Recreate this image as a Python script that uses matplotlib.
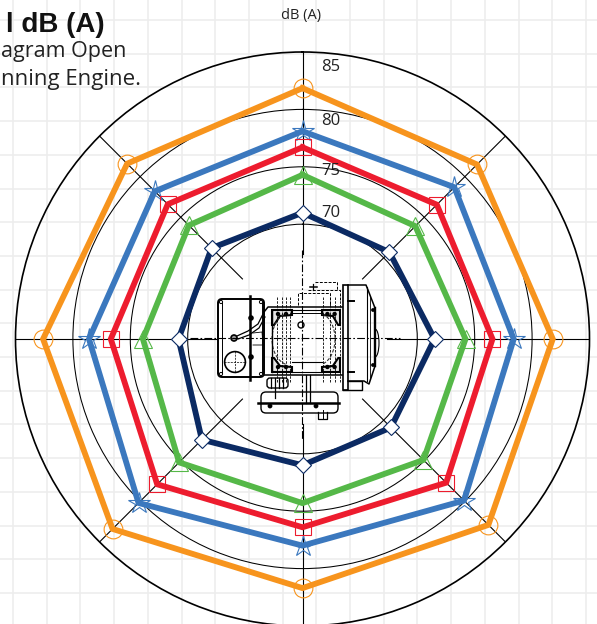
"""Polar noise chart, dB (A) around an open diagram running engine."""

import numpy as np
import matplotlib
matplotlib.use("Agg")
import matplotlib.pyplot as plt
from matplotlib.patches import Rectangle, Circle, FancyBboxPatch, Arc, Polygon

W, H = 597, 624
CX, CY, R = 302.5, 339, 287

# clockwise from north
directions = [0, 45, 90, 135, 180, 225, 270, 315]
ring_ticks = [70, 75, 80, 85]

orange_db = [81.85, 81.5, 81.8, 82.9, 81.7, 83.4, 82.6, 81.6]
blue_db = [78.1, 78.7, 78.4, 79.9, 78.0, 80.2, 78.6, 78.2]
red_db = [76.7, 76.55, 76.55, 77.7, 76.4, 77.9, 76.7, 76.6]
green_db = [74.3, 73.9, 74.2, 74.9, 74.3, 75.2, 73.9, 74.0]
navy_db = [71.0, 70.7, 71.5, 70.9, 71.0, 72.4, 70.8, 71.2]

series = [
    (orange_db, "#F7941D", "o", 13.5, "none"),
    (blue_db, "#3B78BE", "*", 16, "none"),
    (red_db, "#ED1C2E", "s", 12, "none"),
    (green_db, "#55B848", "^", 13, "none"),
    (navy_db, "#0B2A63", "D", 8.5, "white"),
]

SANS = ["Open Sans", "DejaVu Sans"]

fig = plt.figure(figsize=(W / 100, H / 100), dpi=100, facecolor="white")

# ---- background grid, whole figure in pixel units ----
bg = fig.add_axes([0, 0, 1, 1], zorder=0)
bg.set_xlim(0, W)
bg.set_ylim(H, 0)
bg.set_xticks(np.arange(13, W, 33.7))
bg.set_yticks(np.arange(20, H, 33.7))
bg.grid(True, color="#EDEDED", lw=1.2)
bg.tick_params(length=0, labelbottom=False, labelleft=False)
for s in bg.spines.values():
    s.set_visible(False)

# ---- polar chart ----
ax = fig.add_axes(
    [(CX - R) / W, (H - CY - R) / H, 2 * R / W, 2 * R / H],
    projection="polar", zorder=1,
)
ax.patch.set_alpha(0)
ax.set_theta_zero_location("N")
ax.set_theta_direction(-1)
ax.set_ylim(60, 85)
ax.set_yticks(ring_ticks[:-1])
ax.set_yticklabels([])
ax.set_xticks([])
ax.yaxis.grid(True, color="black", lw=0.75)
ax.spines["polar"].set_linewidth(1.2)
ax.spines["polar"].set_color("black")

thetas = np.deg2rad(directions)
for t in thetas:
    ax.plot([t, t], [67.4, 85], color="black", lw=0.8, zorder=2)

closed = np.append(thetas, thetas[0])
for vals, col, mk, ms, face in series:
    ax.plot(closed, vals + vals[:1], color=col, lw=4.2, zorder=4, clip_on=False,
            solid_joinstyle="miter")
    z = 5 if face != "none" else 3
    ax.plot(thetas, vals, ls="none", marker=mk, ms=ms, mfc=face, mec=col, mew=0.8,
            zorder=z, clip_on=False)

# ---- texts and engine on a pixel overlay ----
ov = fig.add_axes([0, 0, 1, 1], zorder=2)
ov.set_xlim(0, W)
ov.set_ylim(H, 0)
ov.axis("off")

for lab, y in zip(ring_ticks, [213, 171, 121, 67]):
    ov.text(331, y, str(lab), ha="center", va="center", fontsize=12, family=SANS, color="#222222")
ov.text(301, 15, "dB (A)", ha="center", va="center", fontsize=10.5, family=SANS, color="#222222")
ov.text(105, 25, "l dB (A)", ha="right", va="center", fontsize=20, fontweight="bold",
        family=["Liberation Sans", "DejaVu Sans"], color="#111111")
ov.text(126, 52, "agram Open", ha="right", va="center", fontsize=15.5, family=SANS, color="#222222")
ov.text(141, 79, "nning Engine.", ha="right", va="center", fontsize=16, family=SANS, color="#222222")


def ln(xs, ys, lw=1.0, ls="-"):
    ov.plot(xs, ys, color="black", lw=lw, ls=ls)


def dot(x, y, r=2.4, fc="black", lw=0):
    ov.add_patch(Circle((x, y), r, fc=fc, ec="black", lw=lw))


center_ls = (0, (7, 2, 1.5, 2))
dashed = (0, (3, 1.5))

# terminal box
ov.add_patch(FancyBboxPatch((218, 299), 46, 78, boxstyle="round,pad=0,rounding_size=4",
                            fc="white", ec="black", lw=1.4))
ln([222, 222], [303, 373], 0.7)
ln([262, 262], [303, 373], 0.7)
for cx_, cy_ in [(221, 302), (261, 302), (221, 374), (261, 374)]:
    dot(cx_, cy_, 1.6, "white", 0.7)
ln([250, 250], [296, 380], 1.8)
dot(235, 362, 10.4, "white", 1.2)
ln([224, 246], [362, 362], 0.5, dashed)
ln([235, 235], [351, 373], 0.5, dashed)
dot(234, 338, 3, "#999999", 1.2)
dot(251, 318, 2.8)
dot(251, 357, 2.8)
ln([237, 248, 258, 263], [336, 331, 324, 314], 0.9)
ln([238, 249, 259, 265], [339, 335, 328, 317], 0.9)
ln([253, 262, 263, 253], [333, 332, 345, 345], 0.6)

# motor body
ln([264, 268, 342], [312, 307, 307], 1.1)
ln([264, 342], [375, 375], 1.1)
ln([292, 322], [310, 310], 0.8)
ln([292, 322], [313, 313], 0.7)
ln([292, 322], [362, 362], 0.8)
ln([292, 322], [372, 372], 0.8)
ln([272, 272], [310, 372], 1.0)

for y0, y1 in [(310, 372)]:
    for x0, x1 in [(272, 292), (340, 322)]:
        ov.add_patch(Polygon([(x0, y0), (x1, y0), (x1, y0 + 5), (x0 + (x1 - x0) * 0.4, y0 + 6), (x0 + (x1 - x0) * 0.1, y0 + 15), (x0, y0 + 15)],
                             closed=True, fc="#E5E5E5", ec="black", lw=1.5))
        ov.add_patch(Polygon([(x0, y1), (x1, y1), (x1, y1 - 5), (x0 + (x1 - x0) * 0.4, y1 - 6), (x0 + (x1 - x0) * 0.1, y1 - 14), (x0, y1 - 14)],
                             closed=True, fc="#E5E5E5", ec="black", lw=1.5))
        for f in (0.3, 0.7):
            dot(x0 + (x1 - x0) * f, y0 + 4, 2.2)
            dot(x0 + (x1 - x0) * f, y1 - 5, 2.2)
ov.add_patch(Arc((290, 339), 36, 52, theta1=100, theta2=260, ec="#333333", lw=0.8, ls=dashed))
ov.add_patch(Arc((318, 339), 34, 52, theta1=-80, theta2=80, ec="#333333", lw=0.8, ls=dashed))
dot(301, 325, 3, "white", 1.0)
for vx in [277, 282, 286, 290, 323, 330, 335, 340]:
    ln([vx, vx], [297, 382], 0.6, dashed)

# dashed top box
ln([298, 298, 330, 330], [305, 293, 293, 305], 0.7, dashed)
ln([308, 340, 340], [290, 290, 300], 0.7, dashed)
ln([315, 337, 337], [282, 282, 290], 0.7, dashed)
ln([310, 317], [287, 287], 1.1)
ln([313, 313], [284, 290], 0.9)

# flange and fan cover
ov.add_patch(Rectangle((343, 285), 5, 105, fc="white", ec="black", lw=1.2))
ln([348, 366, 368, 375, 375, 369, 364, 348],
   [285, 285, 290, 308, 366, 384, 381, 381], 1.1)
ln([367, 367], [287, 381], 0.8)
ln([370, 370], [296, 378], 0.6)
ln([375, 375], [308, 366], 1.7)
ov.add_patch(Arc((375, 343), 8, 28, theta1=-90, theta2=90, ec="black", lw=0.8))
for by in [301, 372]:
    ln([348, 354], [by, by], 1.4)
dot(373, 310, 1.9)
dot(373, 365, 1.9)
ln([348, 362, 362, 343], [381, 381, 390, 390], 1.0)

# feet and base
ov.add_patch(FancyBboxPatch((261, 392), 77, 21, boxstyle="round,pad=0,rounding_size=5",
                            fc="white", ec="black", lw=1.0))
ln([258, 339], [403, 403], 1.8)
dot(270, 406, 2.4)
dot(316, 406, 2.4)
ov.add_patch(FancyBboxPatch((267, 378), 21, 10, boxstyle="round,pad=0,rounding_size=3",
                            fc="white", ec="black", lw=1.0))
for bx in [271, 275, 279, 283]:
    ln([bx, bx], [378, 388], 0.9)
ln([275, 275], [388, 398], 0.9)
ln([306, 306], [375, 403], 0.9)
ln([310, 310], [375, 403], 0.9)
ln([318, 318, 327, 327], [412, 419, 419, 412], 0.9)
ln([322.5, 322.5], [410, 419], 0.7)

ln([190, 400], [338, 338], 0.8, center_ls)
ln([302, 302], [250, 440], 0.8, center_ls)

fig.savefig("out.png", dpi=100)
plt.close(fig)
